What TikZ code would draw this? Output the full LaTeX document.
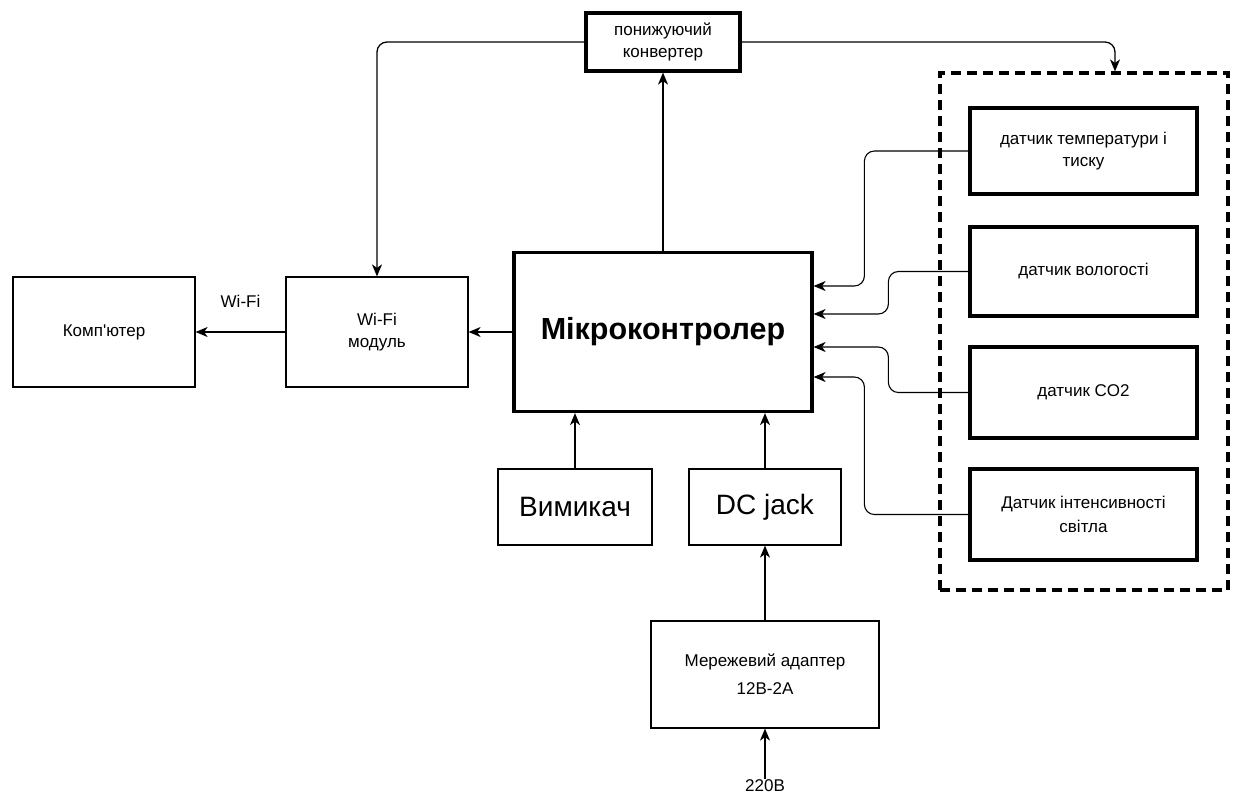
\documentclass[tikz,border=0pt]{standalone}
\usepackage{fontspec}
\setmainfont{Liberation Sans}
\usetikzlibrary{arrows.meta,calc}
\begin{document}
\begin{tikzpicture}[x=1pt,y=-1pt,
 box/.style={draw,line width=1.2pt,align=center,inner sep=0pt,font=\fontsize{17}{22}\selectfont},
 thickbox/.style={box,line width=3.2pt},
 arr/.style={-{Stealth[length=12pt,width=10pt,inset=3.5pt]},line width=1.3pt},
 conn/.style={arr,rounded corners=10pt},
 sconn/.style={conn,line width=1.1pt}]
\useasboundingbox (0,0) rectangle (1235,796);
% nodes
\node[thickbox,minimum width=154pt,minimum height=58pt] (conv) at (663,42) {понижуючий\\конвертер};
\node[thickbox,minimum width=298pt,minimum height=159pt,font=\fontsize{30.5}{36}\selectfont\bfseries] (mc) at (663,332) {Мікроконтролер};
\node[box,minimum width=182pt,minimum height=110pt] (wifi) at (377,332) {Wi-Fi\\модуль};
\node[box,minimum width=182pt,minimum height=110pt] (comp) at (104,332) {Комп\textquotesingle ютер};
\node[box,minimum width=154pt,minimum height=76pt,font=\fontsize{28}{32}\selectfont] (sw) at (575,507) {Вимикач};
\node[box,minimum width=152pt,minimum height=76pt,font=\fontsize{28}{32}\selectfont] (dc) at (765,507) {DC jack};
\node[box,minimum width=228pt,minimum height=107pt,font=\fontsize{17}{28}\selectfont] (adp) at (765,674.5) {Мережевий адаптер\\12В-2А};
\node[font=\fontsize{17}{20}\selectfont,inner sep=1pt] (v) at (765,786) {220В};
\node[draw,line width=3.2pt,dash pattern=on 10pt off 6pt,minimum width=288pt,minimum height=517pt,inner sep=0pt] (grp) at (1084,331.5) {};
\node[thickbox,minimum width=227pt,minimum height=86pt] (temp) at (1083.5,151) {датчик температури і\\тиску};
\node[thickbox,minimum width=227pt,minimum height=89pt] (hum) at (1083.5,271.5) {датчик вологості};
\node[thickbox,minimum width=227pt,minimum height=91pt] (co2) at (1083.5,392.5) {датчик CO2};
\node[thickbox,minimum width=227pt,minimum height=91pt,font=\fontsize{17}{24}\selectfont] (light) at (1083.5,514.5) {Датчик інтенсивності\\світла};
\coordinate (gin) at ([xshift=31pt]grp.north);
% connectors
\draw[conn] (conv.west) -| (wifi.north);
\draw[conn] (conv.east) -| (gin);
\draw[arr] (mc.north) -- (conv.south);
\draw[arr] (mc.west) -- (wifi.east);
\draw[arr] (wifi.west) -- (comp.east) node[midway,yshift=31pt,font=\fontsize{17}{20}\selectfont] {Wi-Fi};
\draw[arr] (sw.north) -- (sw.north |- mc.south);
\draw[arr] (dc.north) -- (dc.north |- mc.south);
\draw[arr] (adp.north) -- (dc.south);
\draw[arr] (v.north) -- (adp.south);
\draw[sconn] (temp.west) -- ++(-104,0) |- ([yshift=46pt]mc.east);
\draw[sconn] (hum.west) -- ++(-80,0) |- ([yshift=18pt]mc.east);
\draw[sconn] (co2.west) -- ++(-80,0) |- ([yshift=-15pt]mc.east);
\draw[sconn] (light.west) -- ++(-104,0) |- ([yshift=-45pt]mc.east);
\end{tikzpicture}
\end{document}
